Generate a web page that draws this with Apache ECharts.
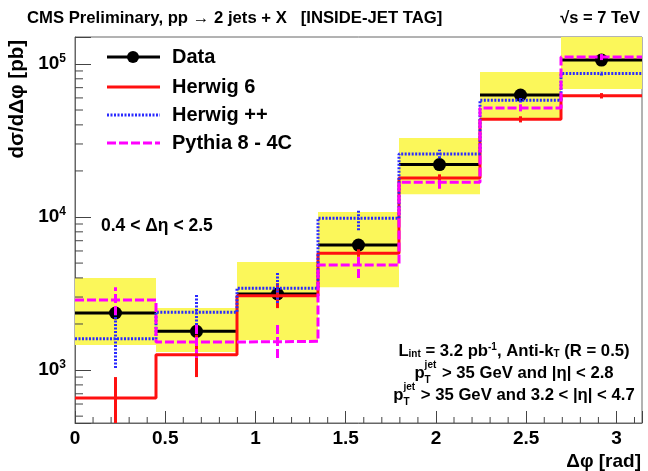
<!DOCTYPE html>
<html><head><meta charset="utf-8">
<script src="https://cdn.jsdelivr.net/npm/echarts@6/dist/echarts.min.js"></script>
<style>html,body{margin:0;padding:0;background:#fff}#c{width:648px;height:471px}</style>
</head><body><div id="c"></div>
<script>
// ---- data ----
const binEdges = [0, 0.4488, 0.8976, 1.3464, 1.7952, 2.2440, 2.6928, 3.1416];
const dataVals = [2360, 1790, 3140, 6560, 22000, 62600, 106000];
const dataLo   = [2270, 1720, 3020, 6350, 21500, 61500, 104000];
const dataHi   = [2450, 1860, 3260, 6770, 22500, 63700, 108000];
const sysLow   = [1456, 1312, 1570, 3480, 14100, 43000, 68700];
const sysHigh  = [3990, 2540, 5080, 10800, 32800, 88700, 150000];
const herwig6    = [656, 1260, 3060, 5800, 18000, 43500, 62000];
const herwig6Lo  = [380, 900, 2540, 5500, 17000, 41500, 59500];
const herwig6Hi  = [900, 1700, 3700, 6150, 19000, 45500, 64500];
const herwigpp   = [1600, 2390, 3430, 9800, 25800, 58000, 86500];
const herwigppLo = [1030, 1970, 2740, 8200, 24200, 56000, 84000];
const herwigppHi = [2390, 3100, 4300, 11100, 27500, 60000, 89000];
const pythia     = [2870, 1525, 1540, 4850, 16900, 51600, 111000];
const pythiaLo   = [2290, 1200, 1200, 4000, 15300, 49000, 106000];
const pythiaHi   = [3480, 1970, 1970, 5650, 18300, 54500, 116000];
const xTickLabels = ['0', '0.5', '1', '1.5', '2', '2.5', '3'];
const yTickExps = [3, 4, 5];
const yMin = 451, yMax = 150000;

const FONT = '"Liberation Sans", Arial, Helvetica, sans-serif';
const YELLOW = '#fbf75a', RED = '#ff1010', BLUE = '#2a2aff', MAG = '#ff00ff';

const yMinorTicks = [];
for (let e = 2; e <= 5; e++) for (let m = 2; m <= 9; m++) { const v = m * Math.pow(10, e); if (v > yMin && v < yMax) yMinorTicks.push(v); }
const xMinorTicks = [];
for (let k = 1; k <= 31; k++) if (k % 5 !== 0) xMinorTicks.push(k / 10);

function stepData(vals) {
  const d = vals.map((v, i) => [binEdges[i], v]);
  d.push([binEdges[binEdges.length - 1], vals[vals.length - 1]]);
  return d;
}
function centerOf(i) { return (binEdges[i] + binEdges[i + 1]) / 2; }

function errSeries(vals, lo, hi, color, width, dash) {
  return {
    type: 'custom', clip: true, silent: true, animation: false,
    data: vals.map((v, i) => [centerOf(i), lo[i], hi[i]]),
    encode: { x: 0, y: [1, 2] },
    renderItem: (params, api) => {
      const a = api.coord([api.value(0), api.value(1)]);
      const b = api.coord([api.value(0), api.value(2)]);
      return { type: 'line', shape: { x1: a[0], y1: a[1], x2: b[0], y2: b[1] },
        style: { stroke: color, lineWidth: width, lineDash: dash || null } };
    }
  };
}
function stepSeries(vals, color, width, dash) {
  return {
    type: 'line', step: 'end', data: stepData(vals), symbol: 'none', clip: true,
    silent: true, animation: false,
    lineStyle: { color: color, width: width, type: dash || 'solid' }
  };
}

const series = [
  { // systematic band
    type: 'custom', clip: true, silent: true, animation: false,
    data: dataVals.map((v, i) => [binEdges[i], binEdges[i + 1], sysLow[i], sysHigh[i]]),
    encode: { x: [0, 1], y: [2, 3] },
    renderItem: (params, api) => {
      const p0 = api.coord([api.value(0), api.value(3)]);
      const p1 = api.coord([api.value(1), api.value(2)]);
      const cs = params.coordSys;
      const r = echarts.graphic.clipRectByRect(
        { x: p0[0], y: p0[1], width: p1[0] - p0[0], height: p1[1] - p0[1] },
        { x: cs.x, y: cs.y, width: cs.width, height: cs.height });
      return r ? { type: 'rect', shape: r, style: { fill: YELLOW } } : null;
    }
  },
  { // data
    type: 'custom', clip: true, silent: true, animation: false,
    data: dataVals.map((v, i) => [binEdges[i], binEdges[i + 1], v, dataLo[i], dataHi[i]]),
    encode: { x: [0, 1], y: [2, 3, 4] },
    renderItem: (params, api) => {
      const x0 = api.value(0), x1 = api.value(1), v = api.value(2);
      const xc = (x0 + x1) / 2;
      const a = api.coord([x0, v]), b = api.coord([x1, v]);
      const lo = api.coord([xc, api.value(3)]), hi = api.coord([xc, api.value(4)]);
      const c = api.coord([xc, v]);
      return { type: 'group', children: [
        { type: 'line', shape: { x1: a[0], y1: a[1], x2: b[0], y2: b[1] }, style: { stroke: '#000', lineWidth: 3 } },
        { type: 'line', shape: { x1: lo[0], y1: lo[1], x2: hi[0], y2: hi[1] }, style: { stroke: '#000', lineWidth: 3 } },
        { type: 'circle', shape: { cx: c[0], cy: c[1], r: 6.5 }, style: { fill: '#000' } }
      ] };
    }
  },
  stepSeries(herwig6, RED, 3),
  errSeries(herwig6, herwig6Lo, herwig6Hi, RED, 3),
  stepSeries(herwigpp, BLUE, 3, [2, 1.5]),
  errSeries(herwigpp, herwigppLo, herwigppHi, BLUE, 3, [2, 1.5]),
  stepSeries(pythia, MAG, 3, [9, 3]),
  errSeries(pythia, pythiaLo, pythiaHi, MAG, 3, [9, 3]),
  { // y minor ticks
    type: 'custom', silent: true, animation: false,
    data: yMinorTicks.map(v => [0, v]), encode: { x: 0, y: 1 },
    renderItem: (params, api) => {
      const p = api.coord([api.value(0), api.value(1)]);
      return { type: 'line', shape: { x1: p[0], y1: p[1], x2: p[0] + 8, y2: p[1] }, style: { stroke: '#444', lineWidth: 1 } };
    }
  },
  { // x minor ticks
    type: 'custom', silent: true, animation: false,
    data: xMinorTicks.map(v => [v, yMin]), encode: { x: 0, y: 1 },
    renderItem: (params, api) => {
      const p = api.coord([api.value(0), api.value(1)]);
      return { type: 'line', shape: { x1: p[0], y1: p[1], x2: p[0], y2: p[1] - 6 }, style: { stroke: '#444', lineWidth: 1 } };
    }
  }
];

// text measurement helper
const mctx = document.createElement('canvas').getContext('2d');
function tw(text, size) { mctx.font = 'bold ' + size + 'px ' + FONT; return mctx.measureText(text).width; }

function T(x, y, text, size, align, extra) {
  return Object.assign({ type: 'text', x: x, y: y, silent: true, z: 100,
    style: { text: text, fill: '#000', font: 'bold ' + size + 'px ' + FONT,
      textAlign: align || 'left', align: align || 'left', textVerticalAlign: 'middle', verticalAlign: 'middle' } }, extra || {});
}
function R(size, extra) { return Object.assign({ fontSize: size, fontWeight: 'bold', fontFamily: FONT, fill: '#000', color: '#000' }, extra || {}); }

function pJet(centerX, y, rest, size) {
  const small = Math.round(size * 0.6);
  const wp = tw('p', size), ws = Math.max(tw('jet', small), tw('T', small)) + 1, wr = tw(rest, size);
  const x0 = centerX - (wp + ws + wr) / 2;
  return [
    T(x0, y, 'p', size),
    T(x0 + wp, y - 8, 'jet', small),
    T(x0 + wp, y + 7, 'T', small),
    T(x0 + wp + ws, y, rest, size)
  ];
}

const graphics = [
  T(27, 18, 'CMS Preliminary, pp \u2192 2 jets + X   [INSIDE-JET TAG]', 16.7),
  T(640, 18, '\u221As = 7 TeV', 16.5, 'right'),
  Object.assign(T(17, 40, 'd\u03C3/d\u0394\u03C6 [pb]', 20.5, 'right'), { rotation: Math.PI / 2 }),
  T(641, 462, '\u0394\u03C6 [rad]', 19, 'right'),
  T(101, 226, '0.4 < \u0394\u03B7 < 2.5', 17.5),
  // legend
  { type: 'line', shape: { x1: 107, y1: 57, x2: 160, y2: 57 }, style: { stroke: '#000', lineWidth: 3 }, z: 100, silent: true },
  { type: 'circle', shape: { cx: 133, cy: 57, r: 6 }, style: { fill: '#000' }, z: 100, silent: true },
  { type: 'line', shape: { x1: 107, y1: 87, x2: 160, y2: 87 }, style: { stroke: RED, lineWidth: 3 }, z: 100, silent: true },
  { type: 'line', shape: { x1: 107, y1: 115, x2: 160, y2: 115 }, style: { stroke: BLUE, lineWidth: 3, lineDash: [2, 1.5] }, z: 100, silent: true },
  { type: 'line', shape: { x1: 107, y1: 143, x2: 160, y2: 143 }, style: { stroke: MAG, lineWidth: 3, lineDash: [9, 3] }, z: 100, silent: true },
  T(172, 57, 'Data', 20),
  T(172, 87, 'Herwig 6', 20),
  T(172, 115, 'Herwig ++', 20),
  T(172, 143, 'Pythia 8 - 4C', 20),
  { type: 'text', x: 514, y: 351, silent: true, z: 100,
    style: { text: '{m|L}{s|int}{m| = 3.2 pb}{u|-1}{m|, Anti-k}{s|T}{m| (R = 0.5)}', textAlign: 'center', align: 'center', textVerticalAlign: 'middle', verticalAlign: 'middle',
      rich: { m: R(16.7), s: R(10, { verticalAlign: 'bottom', padding: [6, 0, 0, 0] }), u: R(10, { verticalAlign: 'top', padding: [0, 0, 6, 0] }) } } }
].concat(pJet(514, 373, ' > 35 GeV and |\u03B7| < 2.8', 16.7))
 .concat(pJet(514, 395, ' > 35 GeV and 3.2 < |\u03B7| < 4.7', 16.7));

const chart = echarts.init(document.getElementById('c'), null, { renderer: 'canvas' });
chart.setOption({
  animation: false,
  backgroundColor: '#fff',
  grid: { left: 75, right: 6, top: 37, bottom: 48, show: true, borderColor: '#666', borderWidth: 1, containLabel: false },
  xAxis: {
    type: 'value', min: binEdges[0], max: binEdges[binEdges.length - 1], interval: 0.5,
    axisLine: { show: true, onZero: false, lineStyle: { color: '#666', width: 1 } },
    axisTick: { show: true, inside: true, length: 12, lineStyle: { color: '#444' } },
    splitLine: { show: false },
    axisLabel: { margin: 6, color: '#000', fontSize: 19, fontWeight: 'bold', fontFamily: FONT,
      showMaxLabel: true,
      formatter: v => { const k = Math.round(v / 0.5); return Math.abs(v - k * 0.5) < 1e-6 && k < xTickLabels.length ? xTickLabels[k] : ''; } }
  },
  yAxis: {
    type: 'log', logBase: 10, min: yMin, max: yMax,
    axisLine: { show: true, lineStyle: { color: '#666', width: 1 } },
    axisTick: { show: true, inside: true, length: 16, lineStyle: { color: '#444' } },
    splitLine: { show: false },
    axisLabel: { margin: 9, color: '#000', fontFamily: FONT,
      formatter: v => { const e = Math.round(Math.log10(v)); return (Math.abs(v - Math.pow(10, e)) < 1e-6 * v && yTickExps.indexOf(e) >= 0) ? '{b|10}{s|' + e + '}' : ''; },
      rich: { b: R(19), s: R(12, { verticalAlign: 'top', padding: [0, 0, 10, 0] }) } }
  },
  series: series,
  graphic: graphics
});
</script></body></html>
